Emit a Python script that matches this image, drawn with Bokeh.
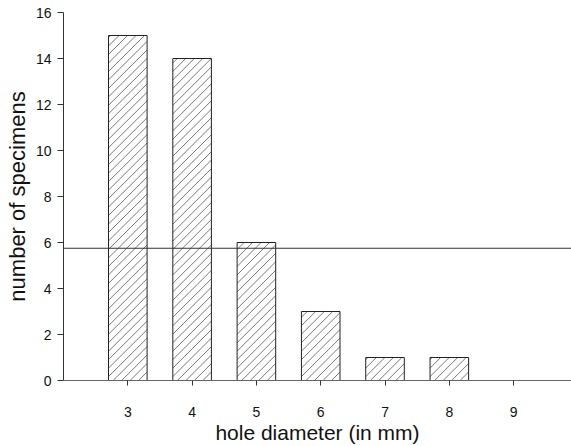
from bokeh.plotting import figure
from bokeh.models import Span, FixedTicker, Range1d
from bokeh.embed import file_html
from bokeh.resources import INLINE

# data
diameters = [3, 4, 5, 6, 7, 8, 9]
counts = [15, 14, 6, 3, 1, 1, 0]
threshold = 5.75
x_ticks = [3, 4, 5, 6, 7, 8, 9]
y_ticks = [0, 2, 4, 6, 8, 10, 12, 14, 16]
x_label = "hole diameter (in mm)"
y_label = "number of specimens"

FONT = "Liberation Sans"
W, H = 571, 446
BL, BR, BT, BB = 63, 0, 12, 65
X0, X1 = 2, 9.9
Y0, Y1 = 0, 16
BAR_W = 0.6

p = figure(width=W, height=H, output_backend="svg", toolbar_location=None,
           x_range=Range1d(X0, X1), y_range=Range1d(Y0, Y1),
           min_border_left=BL, min_border_right=BR, min_border_top=BT, min_border_bottom=BB)
p.outline_line_color = None
p.xgrid.grid_line_color = None
p.ygrid.grid_line_color = None

# white bar bodies
p.vbar(x=diameters, top=counts, width=BAR_W, fill_color="white", line_color=None)

# 45-degree diagonal hatching derived from the bar data (pixel scale of the frame)
kx = (W - BL - BR) / (X1 - X0)
ky = (H - BT - BB) / (Y1 - Y0)
spacing = 8.5  # px
xs, ys = [], []
for xc, top in zip(diameters, counts):
    L = xc - BAR_W / 2
    bw = BAR_W * kx
    bh = top * ky
    if bh <= 0:
        continue
    c = -bw
    while c < bh:
        u0 = max(0.0, -c)
        u1 = min(bw, bh - c)
        if u1 > u0:
            xs.append([L + u0 / kx, L + u1 / kx])
            ys.append([(u0 + c) / ky, (u1 + c) / ky])
        c += spacing
p.multi_line(xs=xs, ys=ys, line_color="#555555", line_width=0.8)

# bar outlines
p.vbar(x=diameters, top=counts, width=BAR_W, fill_color=None,
       line_color="#222222", line_width=1)

span = Span(location=threshold, dimension="width", line_color="#333333", line_width=1)
p.add_layout(span)

for ax in (p.xaxis[0], p.yaxis[0]):
    ax.major_label_text_font = FONT
    ax.axis_label_text_font = FONT
    ax.axis_label_text_font_style = "normal"
    ax.major_label_text_color = "#111111"
    ax.axis_label_text_color = "#111111"
    ax.minor_tick_line_color = None
    ax.major_tick_in = 0

xa = p.xaxis[0]
xa.ticker = FixedTicker(ticks=x_ticks)
xa.axis_label = x_label
xa.axis_label_text_font_size = "21px"
xa.major_label_text_font_size = "14px"
xa.major_tick_out = 5
xa.major_label_standoff = 21
xa.axis_label_standoff = 1
xa.axis_line_color = "#666666"
xa.major_tick_line_color = "#333333"

ya = p.yaxis[0]
ya.ticker = FixedTicker(ticks=y_ticks)
ya.axis_label = y_label
ya.axis_label_text_font_size = "22px"
ya.major_label_text_font_size = "14px"
ya.major_tick_out = 6
ya.major_label_standoff = 6
ya.axis_label_standoff = 3
ya.axis_line_color = "#333333"
ya.major_tick_line_color = "#333333"

open("out.html", "w").write(file_html(p, INLINE))
